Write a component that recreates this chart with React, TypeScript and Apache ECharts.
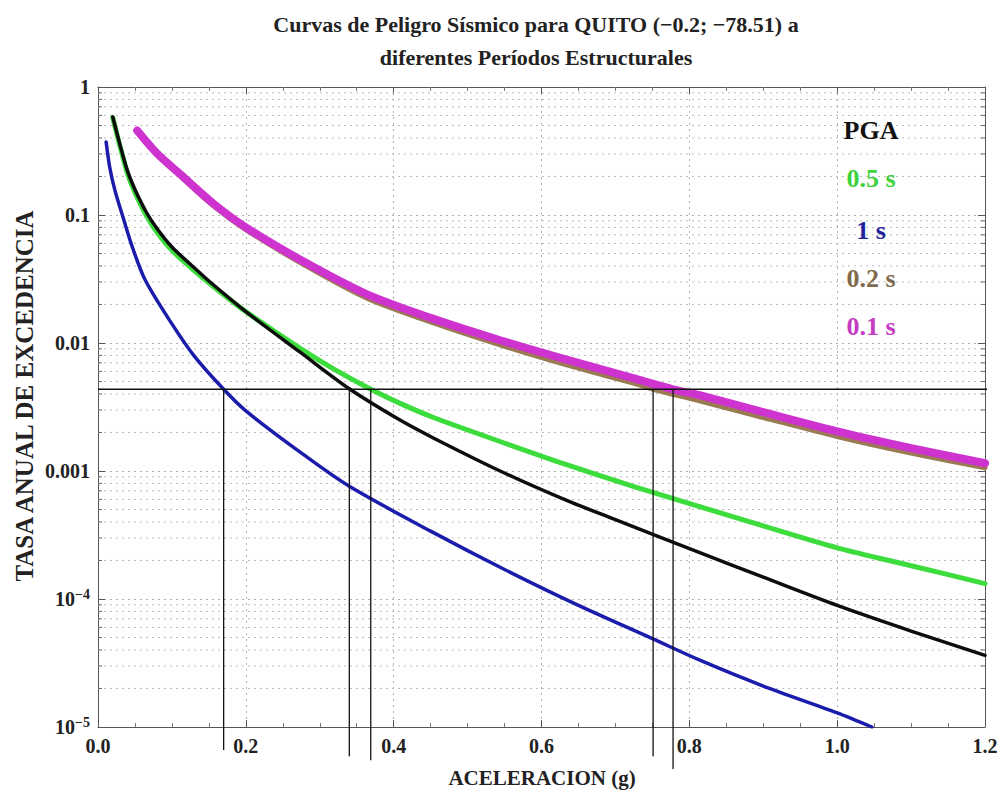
import React, { useEffect, useRef } from 'react';
import * as echarts from 'echarts';

// Reference level and the intersections marked on the chart
const hazardLevel = 0.00435;
const crossX = [0.17, 0.34, 0.369, 0.751, 0.778];
const crossBottom = [6.6e-6, 5.9e-6, 5.5e-6, 5.9e-6, 4.7e-6];

// PGA (black)
const pgaX = [0.02, 0.03, 0.04, 0.05, 0.065, 0.08, 0.1, 0.125, 0.15, 0.2, 0.273, 0.341, 0.408, 0.453, 0.544, 0.634, 0.7, 0.815, 0.9, 1.0, 1.1, 1.2];
const pgaY = [0.583, 0.35, 0.22, 0.158, 0.106, 0.078, 0.0562, 0.0412, 0.0305, 0.0176, 0.00851, 0.00435, 0.00251, 0.00182, 0.001, 0.000589, 0.000417, 0.000229, 0.000148, 0.0000891, 0.0000562, 0.0000363];

// 0.5 s (green)
const s05X = [0.02, 0.03, 0.04, 0.05, 0.065, 0.08, 0.1, 0.125, 0.15, 0.2, 0.273, 0.318, 0.369, 0.408, 0.453, 0.544, 0.634, 0.724, 0.815, 0.9, 1.0, 1.1, 1.2];
const s05Y = [0.575, 0.34, 0.21, 0.15, 0.1, 0.073, 0.053, 0.039, 0.0295, 0.0176, 0.00912, 0.00631, 0.00435, 0.00339, 0.00263, 0.0017, 0.00112, 0.000759, 0.000525, 0.000372, 0.000251, 0.000182, 0.000132];

// 1 s (blue)
const s1X = [0.011, 0.016, 0.023, 0.034, 0.047, 0.064, 0.1, 0.13, 0.17, 0.2, 0.273, 0.34, 0.45, 0.55, 0.65, 0.75, 0.815, 0.9, 1.0, 1.047];
const s1Y = [0.372, 0.234, 0.155, 0.0955, 0.055, 0.0309, 0.0141, 0.00794, 0.00435, 0.00295, 0.00141, 0.000759, 0.000339, 0.00017, 0.0000891, 0.000049, 0.0000331, 0.0000209, 0.0000129, 0.00001];

// 0.2 s (brown)
const s02X = [0.053, 0.08, 0.111, 0.156, 0.201, 0.28, 0.364, 0.453, 0.544, 0.634, 0.724, 0.751, 0.815, 0.9, 1.0, 1.1, 1.2];
const s02Y = [0.45, 0.294, 0.202, 0.118, 0.0762, 0.0405, 0.0224, 0.0144, 0.00966, 0.00675, 0.00486, 0.00435, 0.00352, 0.00262, 0.00186, 0.00138, 0.00106];

// 0.1 s (magenta)
const s01X = [0.053, 0.08, 0.111, 0.156, 0.201, 0.28, 0.364, 0.453, 0.544, 0.634, 0.724, 0.778, 0.815, 0.9, 1.0, 1.1, 1.2];
const s01Y = [0.457, 0.302, 0.209, 0.123, 0.0794, 0.0427, 0.024, 0.0155, 0.0105, 0.00741, 0.00531, 0.00435, 0.00389, 0.00288, 0.00204, 0.00151, 0.00115];

const legendNames = ['PGA', '0.5 s', '1 s', '0.2 s', '0.1 s'];
const legendColors = ['#111111', '#3fd23f', '#23239a', '#7f6b4c', '#c33cc3'];
const legendRows = [130, 178, 230, 278, 326];

const decades = [1e-5, 1e-4, 1e-3, 1e-2, 1e-1];
const multipliers = [2, 3, 4, 5, 6, 7, 8, 9];

const FONT = '"Liberation Serif", "Times New Roman", serif';

function pairs(xs: number[], ys: number[]) {
  return xs.map((x, i) => [x, ys[i]]);
}

export default function App() {
  const ref = useRef<HTMLDivElement>(null);

  useEffect(() => {
    if (!ref.current) return;
    const chart = echarts.init(ref.current, undefined, { renderer: 'svg' });

    const minorVals: number[][] = [];
    decades.forEach((d) => multipliers.forEach((m) => minorVals.push([0, d * m])));

    const curve = (name: string, data: number[][], color: string, width: number, z: number) => ({
      name,
      type: 'line',
      data,
      symbol: 'none',
      smooth: 0.3,
      lineStyle: { color, width, cap: 'round', join: 'round' },
      z,
      silent: true,
    });

    const tickLabel = {
      color: '#222',
      fontFamily: FONT,
      fontWeight: 'bold',
      fontSize: 20,
    };

    const option: any = {
      animation: false,
      grid: { left: 98, right: 17, top: 87, bottom: 67 },
      xAxis: [
        {
          type: 'value',
          min: 0,
          max: 1.2,
          interval: 0.2,
          position: 'bottom',
          axisLine: { show: true, onZero: false, lineStyle: { color: '#555', width: 1 } },
          axisTick: { show: true, inside: true, length: 7, lineStyle: { color: '#555' } },
          minorTick: { show: true, splitNumber: 4, length: 4, lineStyle: { color: '#777' } },
          axisLabel: {
            ...tickLabel,
            formatter: (v: number) => v.toFixed(1),
            margin: 9,
            showMaxLabel: true,
            showMinLabel: true,
          },
          splitLine: { show: true, lineStyle: { type: [2, 4], color: '#b0b0b0', width: 1 } },
        },
        {
          type: 'value',
          min: 0,
          max: 1.2,
          interval: 0.2,
          position: 'top',
          axisLine: { show: true, onZero: false, lineStyle: { color: '#555', width: 1 } },
          axisTick: { show: true, inside: true, length: 7, lineStyle: { color: '#555' } },
          minorTick: { show: true, splitNumber: 4, length: 4, lineStyle: { color: '#777' } },
          axisLabel: { show: false },
          splitLine: { show: false },
        },
      ],
      yAxis: [
        {
          type: 'log',
          logBase: 10,
          min: 1e-5,
          max: 1,
          splitNumber: 5,
          position: 'left',
          axisLine: { show: true, onZero: false, lineStyle: { color: '#555', width: 1 } },
          axisTick: { show: true, inside: true, length: 7, lineStyle: { color: '#555' } },
          axisLabel: {
            ...tickLabel,
            formatter: (v: number) => {
              const e = Math.round(Math.log10(v));
              if (e === 0) return '1';
              if (e >= -3) return v.toFixed(-e);
              return '10{s|\u2212' + -e + '}';
            },
            margin: 8,
            rich: {
              s: { fontSize: 14, fontWeight: 'bold', fontFamily: FONT, color: '#222', verticalAlign: 'top', padding: [0, 0, 9, 0] },
            },
          },
          splitLine: { show: true, lineStyle: { type: [2, 4], color: '#b0b0b0', width: 1 } },
        },
        {
          type: 'log',
          logBase: 10,
          min: 1e-5,
          max: 1,
          splitNumber: 5,
          position: 'right',
          axisLine: { show: true, onZero: false, lineStyle: { color: '#555', width: 1 } },
          axisTick: { show: true, inside: true, length: 7, lineStyle: { color: '#555' } },
          axisLabel: { show: false },
          splitLine: { show: false },
        },
      ],
      graphic: [
        {
          type: 'text',
          x: 536,
          y: 24,
          style: {
            text: 'Curvas de Peligro S\u00edsmico para QUITO (\u22120.2; \u221278.51) a',
            fill: '#222',
            fontFamily: FONT,
            fontWeight: 'bold',
            fontSize: 22,
            textAlign: 'center',
            textVerticalAlign: 'middle',
          },
        },
        {
          type: 'text',
          x: 536,
          y: 57,
          style: {
            text: 'diferentes Per\u00edodos Estructurales',
            fill: '#222',
            fontFamily: FONT,
            fontWeight: 'bold',
            fontSize: 22,
            textAlign: 'center',
            textVerticalAlign: 'middle',
          },
        },
        {
          type: 'text',
          x: 24,
          y: 396,
          rotation: Math.PI / 2,
          style: {
            text: 'TASA ANUAL DE EXCEDENCIA',
            fill: '#222',
            fontFamily: FONT,
            fontWeight: 'bold',
            fontSize: 25,
            textAlign: 'center',
            textVerticalAlign: 'middle',
          },
        },
        {
          type: 'text',
          x: 542,
          y: 778,
          style: {
            text: 'ACELERACION (g)',
            fill: '#222',
            fontFamily: FONT,
            fontWeight: 'bold',
            fontSize: 21,
            textAlign: 'center',
            textVerticalAlign: 'middle',
          },
        },
        ...legendNames.map((n, i) => ({
          type: 'text',
          x: 871,
          y: legendRows[i],
          z: 100,
          style: {
            text: n,
            fill: legendColors[i],
            fontFamily: FONT,
            fontWeight: 'bold',
            fontSize: 26,
            textAlign: 'center',
            textVerticalAlign: 'middle',
          },
        })),
      ],
      series: [
        {
          type: 'custom',
          silent: true,
          z: 1,
          data: minorVals,
          renderItem: (params: any, api: any) => {
            const v = api.value(1);
            const p0 = api.coord([0, v]);
            const p1 = api.coord([1.2, v]);
            return {
              type: 'group',
              children: [
                {
                  type: 'line',
                  shape: { x1: p0[0], y1: p0[1], x2: p1[0], y2: p1[1] },
                  style: { stroke: '#bbbbbb', lineWidth: 1, lineDash: [2, 4] },
                },
                {
                  type: 'line',
                  shape: { x1: p0[0], y1: p0[1], x2: p0[0] + 4, y2: p0[1] },
                  style: { stroke: '#666', lineWidth: 1 },
                },
                {
                  type: 'line',
                  shape: { x1: p1[0] - 4, y1: p1[1], x2: p1[0], y2: p1[1] },
                  style: { stroke: '#666', lineWidth: 1 },
                },
              ],
            };
          },
        },
        curve('0.2 s', pairs(s02X, s02Y), '#9a7a52', 5, 3),
        curve('0.1 s', pairs(s01X, s01Y), '#cf33cf', 8, 4),
        curve('0.5 s', pairs(s05X, s05Y), '#3cdc3c', 5, 5),
        curve('PGA', pairs(pgaX, pgaY), '#0d0d0d', 3.5, 6),
        curve('1 s', pairs(s1X, s1Y), '#1c1cac', 3.5, 7),
        {
          type: 'line',
          data: [[0, hazardLevel], [1.225, hazardLevel]],
          clip: false,
          symbol: 'none',
          silent: true,
          lineStyle: { color: '#111', width: 1.3 },
          z: 8,
        },
        ...crossX.map((x, i) => ({
          type: 'line',
          data: [[x, hazardLevel], [x, crossBottom[i]]],
          clip: false,
          symbol: 'none',
          silent: true,
          lineStyle: { color: '#111', width: 1.3 },
          z: 8,
        })),
      ],
    };

    chart.setOption(option);
    return () => chart.dispose();
  }, []);

  return (
    <div
      ref={ref}
      style={{ position: 'fixed', left: 0, top: 0, width: 1002, height: 794, background: '#fff' }}
    />
  );
}
